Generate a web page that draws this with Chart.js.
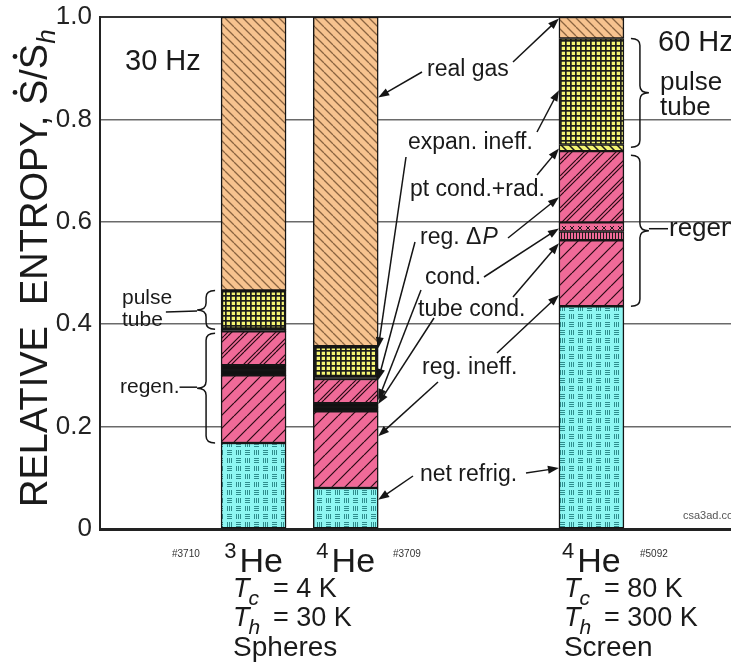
<!DOCTYPE html>
<html>
<head>
<meta charset="utf-8">
<script src="https://cdn.jsdelivr.net/npm/chart.js@4.4.1/dist/chart.umd.min.js"></script>
<style>
  html, body { margin: 0; padding: 0; background: #fff; overflow: hidden; }
  #wrap { width: 731px; height: 667px; overflow: hidden; }
</style>
</head>
<body>
<div id="wrap"><canvas id="entropyChart" width="760" height="667"></canvas></div>
<script>
// columns: 3He / 4He at 30 Hz (spheres), 4He at 60 Hz (screen)
const isotopes = ['3', '4', '4'];
const slotPos = [5, 8, 16];
const runIds = ['#3710', '#3709', '#5092'];
const yTicks = [0, 0.2, 0.4, 0.6, 0.8, 1.0];

// loss fractions, bottom to top
const netRefrig  = [0.168, 0.080, 0.435];
const regIneff   = [0.132, 0.150, 0.129];
const tubeCond   = [0.010, 0.008, 0.017];
const cond       = [0.010, 0.008, 0.018];
const regDP      = [0.066, 0.047, 0.139];
const ptCondRad  = [0.004, 0.004, 0.013];
const expanIneff = [0.076, 0.060, 0.207];
const realGas    = [0.534, 0.643, 0.042];

const FONT = '"Liberation Sans", Arial, sans-serif';
const PEACH = '#F7C38F', PINK = '#F06A98', YELLOW = '#F4F472', CYAN = '#8EF6F2';

function pat(w, h, bg, fn) {
    const c = document.createElement('canvas');
    c.width = w; c.height = h;
    const g = c.getContext('2d');
    g.fillStyle = bg;
    g.fillRect(0, 0, w, h);
    g.strokeStyle = '#1c1c1c';
    g.fillStyle = '#1c1c1c';
    fn(g, w, h);
    return g.createPattern(c, 'repeat');
}
function diag(g, s, dir) {
    g.beginPath();
    for (let k = -1; k <= 1; k++) {
        if (dir > 0) { g.moveTo(k * s, s); g.lineTo(k * s + s, 0); }
        else { g.moveTo(k * s, 0); g.lineTo(k * s + s, s); }
    }
    g.stroke();
}

const peachHatch = pat(9, 9, PEACH, g => { g.strokeStyle = '#8a6440'; g.lineWidth = 1.3; diag(g, 9, -1); });
const pinkHatch = pat(13, 13, PINK, g => { g.strokeStyle = '#2a0a14'; g.lineWidth = 1.2; diag(g, 13, 1); });
const pinkDouble = pat(16, 16, PINK, g => {
    g.strokeStyle = '#2a0a14'; g.lineWidth = 1.2;
    diag(g, 16, 1); g.translate(4, 0); diag(g, 16, 1);
});
const yellowGrid = pat(5, 5, YELLOW, g => { g.fillRect(0, 0, 5, 1.7); g.fillRect(0, 0, 1.7, 5); });
const yellowHatch = pat(8, 8, YELLOW, g => { g.lineWidth = 1.5; diag(g, 8, -1); });
const pinkDots = pat(8, 8, PINK, g => {
    g.lineWidth = 1; g.beginPath();
    g.moveTo(2, 2); g.lineTo(6, 6); g.moveTo(6, 2); g.lineTo(2, 6); g.stroke();
});
const pinkVert = pat(3, 3, PINK, g => { g.fillRect(0, 0, 1, 3); });
const cyanWeave = pat(18, 16, CYAN, g => {
    g.fillStyle = '#2E8C8C';
    for (let i = 0; i < 3; i++) {
        const o = 2 + i * 2;
        g.fillRect(o, 2, 1, 5);            // vertical block
        g.fillRect(11, o, 5, 1);           // horizontal block
        g.fillRect(2, 8 + o, 5, 1);        // horizontal block
        g.fillRect(9 + o, 10, 1, 5);       // vertical block
    }
});

const BLACK = '#111';
const series = [
    { label: 'net refrig.',   data: netRefrig,  bg: [cyanWeave, cyanWeave, cyanWeave] },
    { label: 'reg. ineff.',   data: regIneff,   bg: [pinkHatch, pinkHatch, pinkHatch] },
    { label: 'tube cond.',    data: tubeCond,   bg: [BLACK, BLACK, pinkVert] },
    { label: 'cond.',         data: cond,       bg: [BLACK, BLACK, pinkDots] },
    { label: 'reg. \u0394P',  data: regDP,      bg: [pinkDouble, pinkDouble, pinkDouble] },
    { label: 'pt cond.+rad.', data: ptCondRad,  bg: [BLACK, BLACK, yellowHatch] },
    { label: 'expan. ineff.', data: expanIneff, bg: [yellowGrid, yellowGrid, yellowGrid] },
    { label: 'real gas',      data: realGas,    bg: [peachHatch, peachHatch, peachHatch] }
];

const datasets = series.map(s => ({
    label: s.label,
    data: s.data.map((v, i) => ({ x: slotPos[i], y: v })),
    backgroundColor: s.bg,
    borderColor: '#151515',
    borderWidth: s.label === 'expan. ineff.' ? [2.5, 2.5, 1.5] : 1.5,
    borderSkipped: false,
    barThickness: 65
}));

// [label, textX, textY, targets: [bar index, value, startX, startY]]
const notes = [
    ['real gas',      427, 70,  [[1, 0.843, 422, 72], [2, 0.997, 513, 62]]],
    ['expan. ineff.', 408, 143, [[1, 0.353, 406, 157], [2, 0.857, 537, 132]]],
    ['pt cond.+rad.', 410, 190, [[2, 0.743, 537, 175]]],
    ['reg. \u0394',   420, 238, [[1, 0.291, 415, 242], [2, 0.648, 508, 238]]],
    ['cond.',         425, 278, [[1, 0.252, 421, 290], [2, 0.587, 484, 277]]],
    ['tube cond.',    418, 310, [[1, 0.244, 434, 318], [2, 0.558, 513, 297]]],
    ['reg. ineff.',   422, 368, [[1, 0.181, 438, 382], [2, 0.457, 497, 353]]],
    ['net refrig.',   420, 475, [[1, 0.057, 413, 476], [2, 0.119, 526, 473]]]
];

function text(ctx, str, x, y, size, opts = {}) {
    ctx.font = (opts.italic ? 'italic ' : '') + size + 'px ' + FONT;
    ctx.fillStyle = opts.color || '#1a1a1a';
    ctx.textAlign = opts.align || 'left';
    ctx.textBaseline = opts.baseline || 'alphabetic';
    ctx.fillText(str, x, y);
    return ctx.measureText(str).width;
}

function arrow(ctx, x1, y1, x2, y2) {
    const a = Math.atan2(y2 - y1, x2 - x1), L = 11, W = 4;
    ctx.beginPath();
    ctx.moveTo(x1, y1);
    ctx.lineTo(x2 - Math.cos(a) * L * 0.8, y2 - Math.sin(a) * L * 0.8);
    ctx.stroke();
    ctx.beginPath();
    ctx.moveTo(x2, y2);
    ctx.lineTo(x2 - Math.cos(a) * L - Math.sin(a) * W, y2 - Math.sin(a) * L + Math.cos(a) * W);
    ctx.lineTo(x2 - Math.cos(a) * L + Math.sin(a) * W, y2 - Math.sin(a) * L - Math.cos(a) * W);
    ctx.closePath();
    ctx.fill();
}

function brace(ctx, x, y1, y2, dir, w) {
    const ym = (y1 + y2) / 2, r = Math.min(7, (y2 - y1) / 4), xs = x + dir * w / 2;
    ctx.beginPath();
    ctx.moveTo(x, y1);
    ctx.quadraticCurveTo(xs, y1, xs, y1 + r);
    ctx.lineTo(xs, ym - r);
    ctx.quadraticCurveTo(xs, ym, x + dir * w, ym);
    ctx.quadraticCurveTo(xs, ym, xs, ym + r);
    ctx.lineTo(xs, y2 - r);
    ctx.quadraticCurveTo(xs, y2, x, y2);
    ctx.stroke();
}

const sum = (arrs, i) => arrs.reduce((t, a) => t + a[i], 0);

const annotations = {
    id: 'annotations',
    afterDraw(chart) {
        const { ctx, scales: { y } } = chart;
        const bars = chart.getDatasetMeta(0).data;
        ctx.save();
        ctx.strokeStyle = '#151515';
        ctx.fillStyle = '#151515';
        ctx.lineWidth = 1.5;

        // y axis title
        ctx.save();
        ctx.translate(47, 507);
        ctx.rotate(-Math.PI / 2);
        let tx = text(ctx, 'RELATIVE  ENTROPY, ', 0, 0, 38);
        const sDot = (x0) => {
            const w = text(ctx, 'S', x0, 0, 38);
            ctx.beginPath(); ctx.arc(x0 + w / 2, -32, 2.4, 0, Math.PI * 2); ctx.fill();
            return w;
        };
        tx += sDot(tx);
        tx += text(ctx, '/', tx, 0, 38);
        tx += sDot(tx);
        text(ctx, 'h', tx, 8, 26, { italic: true });
        ctx.restore();

        // labels with arrows
        notes.forEach(([label, lx, ly, targets]) => {
            const w = text(ctx, label, lx, ly, 23, { baseline: 'middle' });
            if (label.startsWith('reg. \u0394')) text(ctx, 'P', lx + w + 1, ly, 23, { baseline: 'middle', italic: true });
            targets.forEach(([bi, v, sx, sy]) => {
                const b = bars[bi];
                const ex = bi === 2 ? b.x - b.width / 2 : b.x + b.width / 2;
                ctx.fillStyle = '#151515';
                arrow(ctx, sx, sy, ex, y.getPixelForValue(v));
            });
        });

        // braces: pulse tube and regenerator groups
        const regenArrs = [regIneff, tubeCond, cond, regDP];
        const ptArrs = [ptCondRad, expanIneff];
        const b0 = bars[0], b2 = bars[2];
        const regLo = i => y.getPixelForValue(netRefrig[i]);
        const regHi = i => y.getPixelForValue(netRefrig[i] + sum(regenArrs, i));
        const ptHi = i => y.getPixelForValue(netRefrig[i] + sum(regenArrs, i) + sum(ptArrs, i));

        const lx = b0.x - b0.width / 2 - 6;
        brace(ctx, lx, ptHi(0), regHi(0) - 2, -1, 18);
        brace(ctx, lx, regHi(0) + 2, regLo(0), -1, 18);
        const rx = b2.x + b2.width / 2 + 7;
        brace(ctx, rx, ptHi(2), regHi(2) - 4, 1, 18);
        brace(ctx, rx, regHi(2) + 4, regLo(2), 1, 18);

        const ptMid0 = (ptHi(0) + regHi(0)) / 2, regMid0 = (regHi(0) + regLo(0)) / 2;
        text(ctx, 'pulse', 122, ptMid0 - 13, 21, { baseline: 'middle' });
        const tw = text(ctx, 'tube', 122, ptMid0 + 9, 21, { baseline: 'middle' });
        ctx.beginPath(); ctx.moveTo(122 + tw + 3, ptMid0 + 1); ctx.lineTo(lx - 18, ptMid0); ctx.stroke();
        const rw = text(ctx, 'regen.', 120, regMid0, 21, { baseline: 'middle' });
        ctx.beginPath(); ctx.moveTo(120 + rw, regMid0); ctx.lineTo(lx - 18, regMid0); ctx.stroke();

        const ptMid2 = (ptHi(2) + regHi(2)) / 2, regMid2 = (regHi(2) + regLo(2)) / 2;
        text(ctx, 'pulse', 660, ptMid2 - 12, 26, { baseline: 'middle' });
        text(ctx, 'tube', 660, ptMid2 + 13, 26, { baseline: 'middle' });
        ctx.beginPath(); ctx.moveTo(rx + 18, regMid2); ctx.lineTo(668, regMid2); ctx.stroke();
        text(ctx, 'regen.', 669, regMid2, 26, { baseline: 'middle' });

        text(ctx, '30 Hz', 125, 62, 29, { baseline: 'middle' });
        text(ctx, '60 Hz', 658, 43, 29, { baseline: 'middle' });
        text(ctx, 'csa3ad.com', 683, 519, 11, { color: '#555' });

        // column labels
        bars.forEach((b, i) => {
            ctx.font = '22px ' + FONT;
            const sw = ctx.measureText(isotopes[i]).width;
            ctx.font = '34px ' + FONT;
            const hw = ctx.measureText('He').width;
            const x0 = b.x - (sw + hw + 3) / 2;
            text(ctx, isotopes[i], x0, 558, 22);
            text(ctx, 'He', x0 + sw + 3, 572, 34);
        });
        text(ctx, runIds[0], 172, 557, 10, { color: '#333' });
        text(ctx, runIds[1], 393, 557, 10, { color: '#333' });
        text(ctx, runIds[2], 640, 557, 10, { color: '#333' });

        const tLine = (x, yb, sub, rest) => {
            const w = text(ctx, 'T', x, yb, 27, { italic: true });
            text(ctx, sub, x + w - 1, yb + 8, 21, { italic: true });
            text(ctx, rest, x + 40, yb, 27);
        };
        const x1 = b0.x - b0.width / 2 + 12, x2 = b2.x - b2.width / 2 + 5;
        tLine(x1, 597, 'c', '= 4 K');
        tLine(x1, 626, 'h', '= 30 K');
        text(ctx, 'Spheres', x1, 656, 28);
        tLine(x2, 597, 'c', '= 80 K');
        tLine(x2, 626, 'h', '= 300 K');
        text(ctx, 'Screen', x2, 656, 28);
        ctx.restore();
    }
};

new Chart(document.getElementById('entropyChart').getContext('2d'), {
    type: 'bar',
    data: { datasets },
    options: {
        responsive: false,
        animation: false,
        devicePixelRatio: 1,
        layout: { padding: { top: 17, right: 15, left: 0, bottom: 0 } },
        plugins: { legend: { display: false }, tooltip: { enabled: false } },
        scales: {
            x: {
                type: 'linear',
                min: 0, max: 21,
                offset: false,
                stacked: true,
                grid: { display: false },
                ticks: { display: false },
                border: { display: true, color: '#222', width: 3 },
                afterFit: s => { s.height = 138; }
            },
            y: {
                min: 0, max: 1,
                stacked: true,
                afterBuildTicks: s => { s.ticks = yTicks.map(v => ({ value: v })); },
                afterFit: s => { s.width = 100; s.paddingTop = 0; s.paddingBottom = 0; },
                grid: {
                    drawTicks: false,
                    color: c => c.tick.value === 1 ? '#333' : '#6a6a6a',
                    lineWidth: c => c.tick.value === 1 ? 2 : 1.5
                },
                border: { display: true, color: '#222', width: 2 },
                ticks: {
                    padding: 8,
                    color: '#222',
                    font: { family: FONT, size: 26 },
                    callback: v => v === 0 ? '0' : v.toFixed(1)
                }
            }
        }
    },
    plugins: [annotations]
});
</script>
</body>
</html>
